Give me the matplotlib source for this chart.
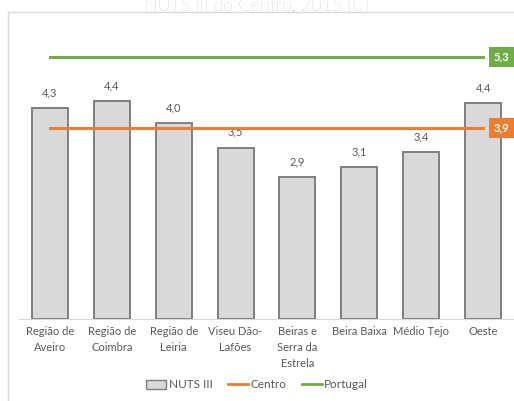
import matplotlib.pyplot as plt
from matplotlib.lines import Line2D
from matplotlib.patches import Patch

plt.rcParams['font.family'] = ['Lato', 'DejaVu Sans']

regioes = ['Região de\nAveiro', 'Região de\nCoimbra', 'Região de\nLeiria', 'Viseu Dão-\nLafões',
           'Beiras e\nSerra da\nEstrela', 'Beira Baixa', 'Médio Tejo', 'Oeste']
nuts3 = [4.3, 4.45, 4.0, 3.5, 2.9, 3.1, 3.4, 4.4]
rotulos = ['4,3', '4,4', '4,0', '3,5', '2,9', '3,1', '3,4', '4,4']
centro = 3.9
portugal = 5.35

fig = plt.figure(figsize=(5.14, 4.01), dpi=100)
W, H = 514, 401
ax = fig.add_axes([19 / W, 1 - 319 / H, (514 - 19) / W, (319 - 25) / H])

x = list(range(len(regioes)))
ax.bar(x, nuts3, width=0.58, color='#D9D9D9', edgecolor='#7F7F7F', linewidth=1.4, zorder=2)
for xi, v, t in zip(x, nuts3, rotulos):
    ax.text(xi, v + 0.2, t, ha='center', va='bottom', fontsize=8, color='#595959')

ax.plot([x[0], x[-1]], [centro, centro], color='#ED7D31', lw=2.2, zorder=3)
ax.plot([x[0], x[-1]], [portugal, portugal], color='#70AD47', lw=2.2, zorder=3)
ax.text(x[-1] + 0.17, centro, '3,9', ha='left', va='center', fontsize=8, color='white',
        fontweight='bold', bbox=dict(boxstyle='square,pad=0.4', fc='#ED7D31', ec='none'))
ax.text(x[-1] + 0.17, portugal, '5,3', ha='left', va='center', fontsize=8, color='white',
        fontweight='bold', bbox=dict(boxstyle='square,pad=0.4', fc='#70AD47', ec='none'))

ax.set_xlim(-0.5, 7.5)
ax.set_ylim(0, 6.0)
ax.set_yticks([])
ax.set_xticks(x)
ax.set_xticklabels(regioes, fontsize=8, color='#595959', linespacing=1.55)
ax.tick_params(axis='x', length=0, pad=5)
for s in ['top', 'right', 'left']:
    ax.spines[s].set_visible(False)
ax.spines['bottom'].set_color('#D9D9D9')

handles = [Patch(fc='#D9D9D9', ec='#7F7F7F', lw=1),
           Line2D([], [], color='#ED7D31', lw=2),
           Line2D([], [], color='#70AD47', lw=2)]
fig.legend(handles, ['NUTS III', 'Centro', 'Portugal'], loc='center', bbox_to_anchor=(257 / W, 1 - 385 / H),
           ncol=3, frameon=False, fontsize=8.5, labelcolor='#595959', handlelength=1.7,
           handletextpad=0.2, columnspacing=1.3)

# chart frame
fig.add_artist(Line2D([8 / W, 8 / W], [0, 1 - 12 / H], color='#D9D9D9', lw=1))
fig.add_artist(Line2D([8 / W, 1], [1 - 12 / H, 1 - 12 / H], color='#D9D9D9', lw=1))

# title is cut off at the top in the original
fig.text(257 / W, 1 - 11 / H, 'NUTS III do Centro, 2015 (C)', ha='center', va='baseline',
         fontsize=13, color='#A6A6A6', fontweight='light')

fig.savefig('out.png', dpi=100)
